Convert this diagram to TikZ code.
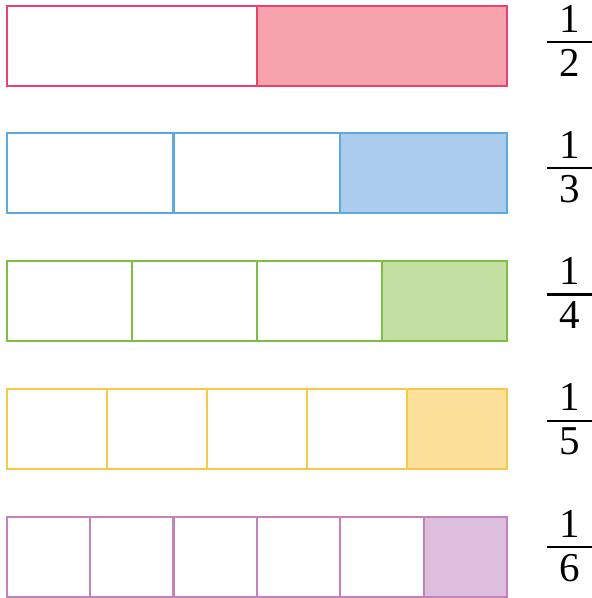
\documentclass[tikz,border=0pt]{standalone}
\usepackage{fontspec}
\setmainfont{Liberation Serif}
\usetikzlibrary{positioning}

\definecolor{pinkline}{HTML}{E8436F}
\definecolor{pinkfill}{HTML}{F7A3AE}
\definecolor{blueline}{HTML}{5DA9DD}
\definecolor{bluefill}{HTML}{ABCCEC}
\definecolor{greenline}{HTML}{7DBF44}
\definecolor{greenfill}{HTML}{C3DFA1}
\definecolor{yellowline}{HTML}{F7C947}
\definecolor{yellowfill}{HTML}{FDE19B}
\definecolor{purpleline}{HTML}{C382BB}
\definecolor{purplefill}{HTML}{DDBEDC}

\begin{document}
\begin{tikzpicture}[
    x=1pt, y=-1pt,
    cell/.style={draw, rectangle, line width=2.2pt, anchor=north west, inner sep=0pt, minimum height=80pt},
    digit/.style={anchor=base, inner sep=0pt, font=\fontsize{41}{45}\selectfont},
    fracrule/.style={line width=2.2pt}
]
    \useasboundingbox (0,0) rectangle (592,598);

    % one bar per row, last cell shaded, fraction on the right
    \foreach \n/\lc/\fc [count=\i from 0] in {2/pinkline/pinkfill, 3/blueline/bluefill, 4/greenline/greenfill, 5/yellowline/yellowfill, 6/purpleline/purplefill} {
        \pgfmathsetmacro{\top}{4.5+127.75*\i}
        \pgfmathsetmacro{\w}{500.5/\n}
        \pgfmathtruncatemacro{\m}{\n-1}

        % empty cells
        \foreach \k in {1,...,\m} {
            \node[cell, draw=\lc, minimum width=\w pt] (cell\i-\k) at ({5.5+(\k-1)*\w},\top) {};
        }
        % shaded cell
        \node[cell, draw=\lc, fill=\fc, minimum width=\w pt] (cell\i-\n) at ({5.5+\m*\w},\top) {};

        % fraction
        \pgfmathsetmacro{\ry}{42+126.25*\i}
        \coordinate (rule\i-l) at (547,\ry);
        \coordinate (rule\i-r) at (592,\ry);
        \draw[fracrule] (rule\i-l) -- (rule\i-r);
        \node[digit] (num\i) at (569.5,\ry-10) {1};
        \node[digit] (den\i) at (569.5,\ry+34) {\n};
    }

\end{tikzpicture}
\end{document}
